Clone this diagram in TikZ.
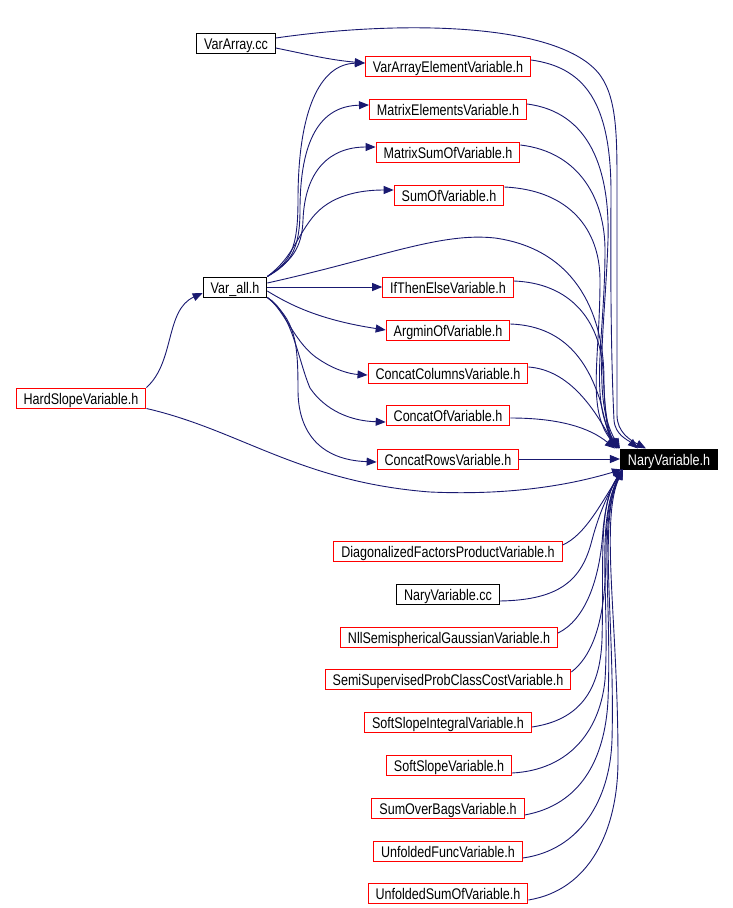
\documentclass[tikz,border=0pt]{standalone}
\usepackage{fontspec}
\setmainfont[FakeStretch=0.815]{Liberation Sans}
\usepackage{tikz}
\usetikzlibrary{arrows.meta}
\definecolor{edgeblue}{RGB}{25,25,112}
\definecolor{hdrred}{RGB}{255,0,0}

\begin{document}
\begin{tikzpicture}[
  x=1pt, y=-1pt,
  >={Triangle[length=10pt,width=8pt]},
  every node/.style={font=\fontsize{15.4}{17}\selectfont},
  file/.style={draw=hdrred, fill=white, line width=1pt, inner xsep=7.5pt, inner ysep=0pt,
               minimum height=20pt, text height=13.8pt, text depth=0pt},
  srcfile/.style={file, draw=black},
  target/.style={file, draw=black, fill=black, text=white},
  dep/.style={->, edgeblue, line width=0.9pt}
]
\useasboundingbox (0,0) rectangle (732,908);
\def\MX{448}
\node[srcfile] (vac)  at (236,43)  {VarArray.cc};
\node[srcfile] (vall) at (235,287) {Var\_all.h};
\node[file]    (hsv)  at (81,398)  {HardSlopeVariable.h};
\node[target]  (nary) at (669,459) {NaryVariable.h};
\node[file] (vaev) at (\MX,66)  {VarArrayElementVariable.h};
\node[file] (mev)  at (\MX,109) {MatrixElementsVariable.h};
\node[file] (msv)  at (\MX,152) {MatrixSumOfVariable.h};
\node[file] (sov)  at (449,195) {SumOfVariable.h};
\node[file] (itev) at (\MX,287) {IfThenElseVariable.h};
\node[file] (aov)  at (\MX,330) {ArgminOfVariable.h};
\node[file] (ccv)  at (\MX,373) {ConcatColumnsVariable.h};
\node[file] (cov)  at (\MX,415) {ConcatOfVariable.h};
\node[file] (crv)  at (\MX,459) {ConcatRowsVariable.h};
\node[file]    (dfpv) at (\MX,551) {DiagonalizedFactorsProductVariable.h};
\node[srcfile] (nacc) at (\MX,594) {NaryVariable.cc};
\node[file]    (nsgv) at (449,637) {NllSemisphericalGaussianVariable.h};
\node[file]    (sspv) at (\MX,679) {SemiSupervisedProbClassCostVariable.h};
\node[file]    (ssiv) at (\MX,722) {SoftSlopeIntegralVariable.h};
\node[file]    (ssv)  at (449,765) {SoftSlopeVariable.h};
\node[file]    (sobv) at (\MX,808) {SumOverBagsVariable.h};
\node[file]    (ufv)  at (\MX,851) {UnfoldedFuncVariable.h};
\node[file]    (usov) at (\MX,893) {UnfoldedSumOfVariable.h};

\draw[dep] ([yshift=5pt]vac.east) .. controls (400,20) and (560,22) .. (600,75)
  .. controls (618,100) and (617,140) .. (617,200) -- (617,415)
  .. controls (617,432) and (630,440) .. ([xshift=26pt]nary.north west);
\draw[dep] ([yshift=-5pt]vac.east) .. controls (310,55) and (330,60) .. ([yshift=3pt]vaev.west);
\draw[dep] ([yshift=6pt]vaev.east) .. controls (590,68) and (612,110) .. (611,200)
  .. controls (610,330) and (613,400) .. (614,420)
  .. controls (615,435) and (628,440) .. ([xshift=18pt]nary.north west);
\draw[dep] ([yshift=5pt]mev.east) .. controls (590,112) and (610,170) .. (608,240)
  .. controls (605,330) and (592,400) .. (nary.north west);
\draw[dep] ([yshift=7pt]msv.east) .. controls (580,152) and (605,200) .. (605,250)
  .. controls (605,340) and (588,400) .. ([xshift=-1pt]nary.north west);
\draw[dep] ([yshift=8pt]sov.east) .. controls (570,190) and (600,230) .. (600,280)
  .. controls (600,360) and (586,410) .. ([xshift=-2pt]nary.north west);
\draw[dep] ([yshift=4pt]vall.east) .. controls (380,258) and (440,232) .. (495,238)
  .. controls (580,250) and (604,320) .. (604,380)
  .. controls (604,420) and (612,440) .. ([xshift=-1pt]nary.north west);
\draw[dep] (vall.north east) .. controls (290,262) and (298,250) .. (298,200)
  .. controls (298,110) and (320,64) .. ([yshift=3pt]vaev.west);
\draw[dep] (vall.north east) .. controls (290,264) and (300,250) .. (300,210)
  .. controls (300,140) and (320,106) .. ([yshift=4pt]mev.west);
\draw[dep] (vall.north east) .. controls (290,262) and (302,250) .. (303,220)
  .. controls (305,170) and (330,147) .. ([yshift=5pt]msv.west);
\draw[dep] (vall.north east) .. controls (292,258) and (295,240) .. (312,218)
  .. controls (330,195) and (360,190) .. ([yshift=5pt]sov.west);
\draw[dep] (vall.east) -- (itev.west);
\draw[dep] ([yshift=-4pt]vall.east) .. controls (290,305) and (320,320) .. (aov.west);
\draw[dep] (vall.south east) .. controls (285,310) and (295,345) .. (320,360)
  .. controls (335,370) and (350,374) .. ([yshift=-2pt]ccv.west);
\draw[dep] (vall.south east) .. controls (292,312) and (298,360) .. (310,388)
  .. controls (325,410) and (350,421) .. ([yshift=-7pt]cov.west);
\draw[dep] (vall.south east) .. controls (295,320) and (298,340) .. (298,390)
  .. controls (298,432) and (320,460) .. ([yshift=-3pt]crv.west);
\draw[dep] ([yshift=6pt]itev.east) .. controls (570,283) and (600,320) .. (603,370)
  .. controls (605,410) and (606,430) .. ([xshift=-3pt]nary.north west);
\draw[dep] ([yshift=6pt]aov.east) .. controls (570,326) and (590,370) .. (600,400)
  .. controls (605,420) and (608,435) .. ([xshift=-3pt]nary.north west);
\draw[dep] ([yshift=6pt]ccv.east) .. controls (570,370) and (595,410) .. ([xshift=-4pt]nary.north west);
\draw[dep] ([yshift=-3pt]cov.east) .. controls (560,418) and (590,428) .. ([xshift=-5pt]nary.north west);
\draw[dep] (crv.east) -- (nary.west);
\draw[dep] (hsv.north east) .. controls (175,362) and (165,310) .. ([yshift=-6pt]vall.west);
\draw[dep] (hsv.south east) .. controls (240,430) and (300,482) .. (430,492)
  .. controls (520,496) and (580,482) .. ([xshift=2pt]nary.south west);
\draw[dep] ([yshift=6pt]dfpv.east) .. controls (585,535) and (600,505) .. ([xshift=3pt]nary.south west);
\draw[dep] ([yshift=-7pt]nacc.east) .. controls (560,600) and (582,580) .. (592,540)
  .. controls (600,510) and (610,490) .. ([xshift=3pt]nary.south west);
\draw[dep] ([yshift=4pt]nsgv.east) .. controls (585,620) and (600,580) .. (603,530)
  .. controls (606,500) and (612,485) .. ([xshift=3pt]nary.south west);
\draw[dep] ([yshift=7pt]sspv.east) .. controls (600,650) and (606,600) .. (606,550)
  .. controls (606,510) and (612,490) .. ([xshift=3pt]nary.south west);
\draw[dep] ([yshift=-5pt]ssiv.east) .. controls (580,720) and (600,690) .. (602,640)
  .. controls (604,560) and (598,505) .. ([xshift=3pt]nary.south west);
\draw[dep] ([yshift=-8pt]ssv.east) .. controls (570,770) and (600,730) .. (605,680)
  .. controls (610,600) and (595,520) .. ([xshift=3pt]nary.south west);
\draw[dep] ([yshift=-7pt]sobv.east) .. controls (580,805) and (605,760) .. (608,700)
  .. controls (612,600) and (598,520) .. ([xshift=3pt]nary.south west);
\draw[dep] ([yshift=-7pt]ufv.east) .. controls (580,850) and (610,800) .. (612,740)
  .. controls (615,620) and (598,520) .. ([xshift=3pt]nary.south west);
\draw[dep] ([yshift=-7pt]usov.east) .. controls (590,890) and (618,830) .. (618,760)
  .. controls (618,620) and (600,520) .. ([xshift=3pt]nary.south west);
\end{tikzpicture}
\end{document}
